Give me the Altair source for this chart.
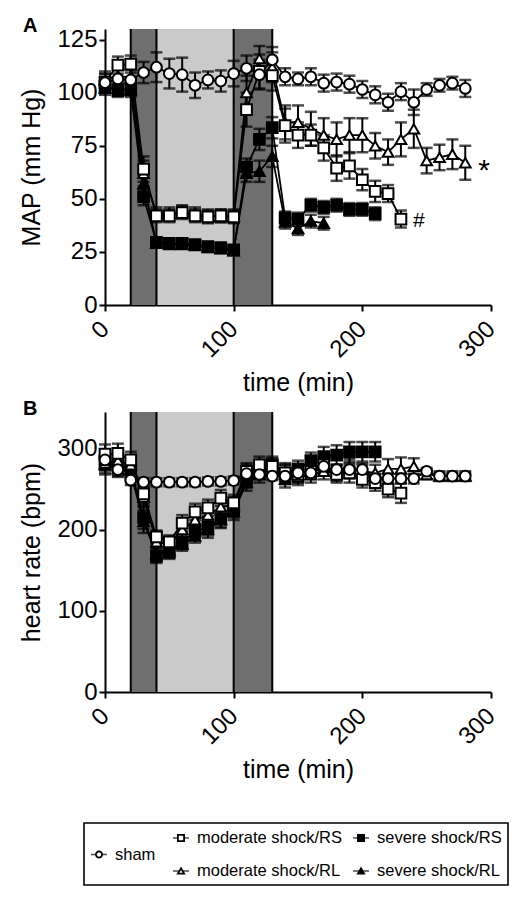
import altair as alt
import pandas as pd

FONT = "Liberation Sans"

# ---------------- data ----------------
time_min = [0, 10, 20, 30, 40, 50, 60, 70, 80, 90, 100, 110, 120, 130, 140,
            150, 160, 170, 180, 190, 200, 210, 220, 230, 240, 250, 260, 270, 280]

series = ["sham", "moderate shock/RS", "moderate shock/RL", "severe shock/RS", "severe shock/RL"]
series_shapes = ["circle", "square", "triangle-up", "square", "triangle-up"]
series_fills = ["white", "white", "white", "black", "black"]
draw_order = ["severe shock/RL", "severe shock/RS", "moderate shock/RL", "moderate shock/RS", "sham"]

# Panel A: MAP (mm Hg)
map_sham = [104.7, 106.5, 106, 109.5, 112, 109, 108.5, 103.5, 106, 105.5, 109, 111.5, 108.5, 115.5,
            107.5, 106.5, 107.5, 104.5, 105, 104, 101.5, 99, 95.5, 100.5, 95.5, 101.5, 103.5, 104.5, 102]
map_sham_err = [4, 5, 5, 5, 7, 7, 8, 6, 4, 5, 6, 6, 7, 6, 4, 3, 4, 4, 4, 4, 4, 4, 4, 4, 6, 3, 3, 3, 4]
map_mod_rs = [105, 113, 113.5, 64, 42, 42, 43.5, 42, 41.5, 42, 41.5, 92, 110, 108, 84.5, 80, 80,
              74, 64.5, 65.5, 59, 53.5, 52.5, 40.5]
map_mod_rs_err = [4, 4, 4, 6, 3, 3, 3, 3, 3, 3, 3, 8, 8, 7, 8, 6, 5, 6, 6, 6, 5, 5, 4, 4]
map_mod_rl = [106, 108, 107, 62, 43, 43, 44, 43, 42, 42, 42, 100, 116, 112, 86, 86, 83, 80, 78, 80,
              80, 75, 72, 78, 83, 68, 69.5, 71, 67]
map_mod_rl_err = [4, 4, 4, 6, 3, 3, 3, 3, 3, 3, 3, 8, 6, 7, 8, 8, 8, 8, 8, 8, 8, 6, 6, 8, 9, 6, 6, 7, 8]
map_sev_rs = [103, 101, 102, 51, 29.5, 29, 29, 28.5, 27.5, 27, 26, 65, 78, 83.5, 41, 40.5, 47, 46,
              47, 45, 45, 43]
map_sev_rs_err = [3, 3, 3, 4, 2, 2, 2, 2, 2, 2, 2, 4, 5, 5, 3, 3, 3, 3, 3, 3, 3, 3]
map_sev_rl = [102, 102, 101, 57, 29, 28.5, 28.5, 28, 27, 26.5, 25.5, 62, 63, 70, 39, 36, 39.5, 38.5]
map_sev_rl_err = [3, 3, 3, 4, 2, 2, 2, 2, 2, 2, 2, 4, 5, 5, 3, 3, 3, 3]

# Panel B: heart rate (bpm)
hr_sham = [286, 274, 261, 258.5, 258.5, 258.5, 258.5, 258.5, 259.5, 259.5, 260.5, 269, 268, 266,
           266, 270, 270, 278, 274, 274, 274, 263, 263, 263, 263, 272, 266, 266, 266]
hr_sham_err = [12, 8, 6, 5, 5, 5, 5, 5, 5, 5, 5, 6, 5, 5, 5, 5, 5, 6, 6, 6, 6, 6, 6, 6, 6, 4, 4, 4, 4]
hr_mod_rs = [293, 294, 286, 244, 191, 185, 208, 222, 227, 239, 233, 272, 280, 278, 270, 268, 272,
             280, 268, 270, 262, 258, 250, 245]
hr_mod_rs_err = [12, 12, 10, 12, 8, 8, 10, 10, 10, 10, 10, 10, 10, 10, 12, 10, 10, 10, 10, 12, 10, 10, 10, 12]
hr_mod_rl = [282, 285, 280, 240, 185, 182, 200, 212, 218, 228, 230, 270, 275, 275, 268, 265, 268,
             272, 270, 275, 272, 270, 275, 275, 278, 268, 266, 266, 266]
hr_mod_rl_err = [12, 12, 10, 12, 8, 8, 10, 10, 10, 10, 10, 10, 10, 10, 12, 10, 10, 10, 10, 12, 10,
                 10, 12, 14, 10, 6, 6, 6, 6]
hr_sev_rs = [285, 278, 275, 215, 167, 172, 184, 198, 203, 213, 225, 262, 272, 280, 270, 275, 285,
             290, 292, 296, 296, 296]
hr_sev_rs_err = [12, 10, 10, 14, 8, 8, 8, 8, 10, 10, 10, 10, 10, 10, 10, 10, 10, 12, 12, 12, 12, 12]
hr_sev_rl = [280, 275, 270, 210, 170, 175, 182, 192, 200, 212, 222, 258, 268, 276, 262, 268, 275, 280]
hr_sev_rl_err = [12, 10, 10, 14, 8, 8, 8, 8, 10, 10, 10, 10, 10, 10, 10, 10, 10, 12]

# protocol phases (shaded bands)
phase_names = ["hemorrhage", "shock", "resuscitation"]
phase_start = [20, 40, 100]
phase_end = [40, 100, 130]
phase_colors = ["#6f6f6f", "#cacaca", "#6f6f6f"]
phase_bounds = [20, 40, 100, 130]

# significance marks at the end of series
note_series = ["moderate shock/RL", "moderate shock/RS"]
note_text = ["*", "#"]

x_ticks = [0, 100, 200, 300]

# ---------------- helpers ----------------
def long_table(vals, errs):
    rows = []
    for name in draw_order:
        for t, v, e in zip(time_min, vals[name], errs[name]):
            rows.append({"t": t, "v": v, "lo": v - e, "hi": v + e, "series": name})
    return pd.DataFrame(rows)


AX = dict(domainColor="black", domainWidth=2, tickColor="black", tickWidth=2, tickSize=6,
          labelFont=FONT, labelFontSize=24, labelColor="black", titleFont=FONT,
          titleFontSize=25, titleFontWeight="normal", titleColor="black", grid=False)


def panel(vals, errs, ymax, yticks, ytitle, letter, H, notes=False):
    df = long_table(vals, errs)
    xs = alt.Scale(domain=[0, 300], nice=False)
    ys = alt.Scale(domain=[0, ymax], nice=False)
    xax = alt.Axis(values=x_ticks, labelAngle=315, labelAlign="right", labelBaseline="middle",
                   title="time (min)", labelPadding=14, titlePadding=9, **AX)
    yax = alt.Axis(values=yticks, title=ytitle, labelPadding=2, titlePadding=12, **AX)

    def X(f):
        return alt.X(f, type="quantitative", scale=xs, axis=xax)

    def Y(f):
        return alt.Y(f, type="quantitative", scale=ys, axis=yax)

    ph = pd.DataFrame({"phase": phase_names, "start": phase_start, "end": phase_end,
                       "top": ymax, "bottom": 0})
    shade = alt.Chart(ph).mark_rect().encode(
        x=X("start"), x2="end", y=Y("top"), y2="bottom",
        color=alt.Color("phase:N", scale=alt.Scale(domain=phase_names, range=phase_colors),
                        legend=None))
    bd = pd.DataFrame({"b": phase_bounds, "top": ymax, "bottom": 0})
    blines = alt.Chart(bd).mark_rule(color="black", strokeWidth=2).encode(
        x=X("b"), y=Y("top"), y2="bottom")

    base = alt.Chart(df)
    ebar = base.mark_rule(color="black", strokeWidth=2).encode(x=X("t"), y=Y("lo"), y2="hi")
    cap_hi = base.mark_tick(color="black", orient="horizontal", size=12, thickness=2.5).encode(
        x=X("t"), y=Y("hi"))
    cap_lo = base.mark_tick(color="black", orient="horizontal", size=12, thickness=2.5).encode(
        x=X("t"), y=Y("lo"))
    lines = base.mark_line(color="black", strokeWidth=1.8).encode(
        x=X("t"), y=Y("v"), detail="series:N", order="t:Q")
    pts = base.mark_point(filled=True, size=115, stroke="black", strokeWidth=2, opacity=1).encode(
        x=X("t"), y=Y("v"),
        shape=alt.Shape("series:N", scale=alt.Scale(domain=series, range=series_shapes), legend=None),
        fill=alt.Fill("series:N", scale=alt.Scale(domain=series, range=series_fills), legend=None))

    lab = alt.Chart(pd.DataFrame({"label": [letter]})).mark_text(
        font=FONT, fontSize=20, fontWeight="bold", align="left", baseline="alphabetic",
        color="black").encode(x=alt.value(-82), y=alt.value(3), text="label:N")

    layers = [shade, blines, ebar, cap_hi, cap_lo, lines, pts, lab]
    if notes:
        nrows = []
        for s, txt in zip(note_series, note_text):
            nrows.append({"t": time_min[len(vals[s]) - 1], "v": vals[s][-1], "txt": txt})
        nd = pd.DataFrame(nrows)
        star = alt.Chart(nd[nd.txt == "*"]).mark_text(
            font=FONT, fontSize=30, align="left", baseline="middle", dx=13, dy=8,
            color="black").encode(x=X("t"), y=Y("v"), text="txt:N")
        hsh = alt.Chart(nd[nd.txt == "#"]).mark_text(
            font=FONT, fontSize=21, align="left", baseline="middle", dx=12, dy=2,
            color="black").encode(x=X("t"), y=Y("v"), text="txt:N")
        layers += [star, hsh]
    return alt.layer(*layers).properties(width=386, height=H)


map_vals = {"sham": map_sham, "moderate shock/RS": map_mod_rs, "moderate shock/RL": map_mod_rl,
            "severe shock/RS": map_sev_rs, "severe shock/RL": map_sev_rl}
map_errs = {"sham": map_sham_err, "moderate shock/RS": map_mod_rs_err,
            "moderate shock/RL": map_mod_rl_err, "severe shock/RS": map_sev_rs_err,
            "severe shock/RL": map_sev_rl_err}
hr_vals = {"sham": hr_sham, "moderate shock/RS": hr_mod_rs, "moderate shock/RL": hr_mod_rl,
           "severe shock/RS": hr_sev_rs, "severe shock/RL": hr_sev_rl}
hr_errs = {"sham": hr_sham_err, "moderate shock/RS": hr_mod_rs_err,
           "moderate shock/RL": hr_mod_rl_err, "severe shock/RS": hr_sev_rs_err,
           "severe shock/RL": hr_sev_rl_err}

panel_a = panel(map_vals, map_errs, 130, [0, 25, 50, 75, 100, 125], "MAP (mm Hg)", "A", 276, notes=True)
panel_b = panel(hr_vals, hr_errs, 345, [0, 100, 200, 300], "heart rate (bpm)", "B", 280)

# ---------------- custom legend ----------------
leg = pd.DataFrame({"series": series, "col": [0, 1, 1, 2, 2], "row": [0.5, 0, 1, 0, 1]})
lx = alt.X("col:Q", scale=alt.Scale(domain=[0, 1, 2], range=[-6, 76, 256]), axis=None)
ly = alt.Y("row:Q", scale=alt.Scale(domain=[0, 1], range=[15, 48]), axis=None)
lbase = alt.Chart(leg)
box = alt.Chart(pd.DataFrame({"k": [0]})).mark_rect(
    fill="white", stroke="black", strokeWidth=1.6).encode(
    x=alt.value(-21), x2=alt.value(403), y=alt.value(0), y2=alt.value(62))
seg = lbase.mark_tick(color="black", orient="horizontal", size=16, thickness=1.5).encode(x=lx, y=ly)
sym = lbase.mark_point(filled=True, size=38, stroke="black", strokeWidth=1.8, opacity=1).encode(
    x=lx, y=ly,
    shape=alt.Shape("series:N", scale=alt.Scale(domain=series, range=series_shapes), legend=None),
    fill=alt.Fill("series:N", scale=alt.Scale(domain=series, range=series_fills), legend=None))
txt = lbase.mark_text(font=FONT, fontSize=16.5, align="left", baseline="middle", dx=16,
                      color="black").encode(x=lx, y=ly, text="series:N")
legend_chart = alt.layer(box, seg, sym, txt).properties(width=400, height=62)

panels = alt.vconcat(panel_a, panel_b, spacing=3).resolve_scale(
    x="independent", y="independent", shape="independent", fill="independent", color="independent")

chart = alt.vconcat(panels, legend_chart, spacing=39).resolve_scale(
    shape="independent", fill="independent"
).configure_view(strokeWidth=0).properties(padding={"left": 11, "top": 8, "right": 0, "bottom": 5})

chart.save("out.html", embed_options={"renderer": "svg", "actions": False})
